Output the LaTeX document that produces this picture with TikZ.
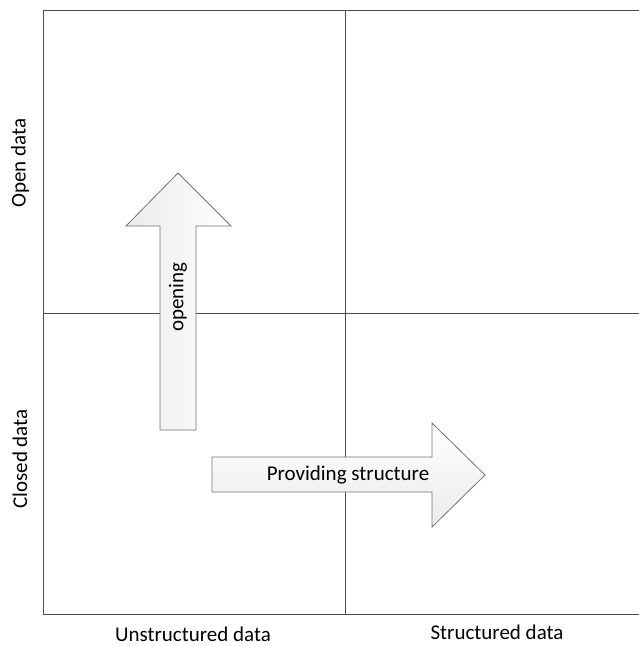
\documentclass[tikz,border=0pt]{standalone}
\usepackage{fontspec}
\setmainfont{Carlito}
\usetikzlibrary{shapes.arrows}
\begin{document}
\begin{tikzpicture}[x=1pt,y=-1pt,
  gridline/.style={draw=black!70,line width=1pt},
  bigarrow/.style={draw=black!55,line width=0.8pt,left color=white,right color=black!8},
  lbl/.style={font=\fontsize{21}{24}\selectfont,inner sep=0pt}]
\useasboundingbox (0,0) rectangle (639,646);
% frame
\draw[gridline] (639,10) -- (43,10) -- (43,614) -- (639,614);
\coordinate (vt) at (345,10);
\coordinate (vb) at (345,614);
\coordinate (hl) at (43,313);
\coordinate (hr) at (639,313);
\draw[gridline] (vt) -- (vb);
\draw[gridline] (hl) -- (hr);
% up arrow
\path[bigarrow,left color=black!8,right color=white] (160,430) -- (160,226) -- (126,226) -- (178,173) -- (231,226) -- (196,226) -- (196,430) -- cycle;
\node[lbl,rotate=90] (opening) at (178,297) {opening};
% right arrow
\path[bigarrow,top color=white,bottom color=black!8] (212,457) -- (432,457) -- (432,423) -- (485,475) -- (432,527) -- (432,492) -- (212,492) -- cycle;
\node[lbl] (prov) at (348,475) {Providing structure};
% axis labels
\node[lbl,rotate=90] (open) at (20,163) {Open data};
\node[lbl,rotate=90] (closed) at (20,459) {Closed data};
\node[lbl] (unstr) at (193,634) {Unstructured data};
\node[lbl] (str) at (497,632) {Structured data};
\end{tikzpicture}
\end{document}
